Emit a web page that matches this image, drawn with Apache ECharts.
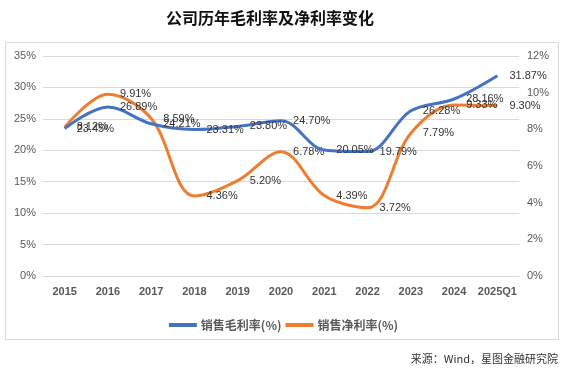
<!DOCTYPE html>
<html><head><meta charset="utf-8">
<script src="https://cdn.jsdelivr.net/npm/echarts@6/dist/echarts.min.js"></script>
<style>html,body{margin:0;padding:0;background:#fff}#c{width:567px;height:374px}</style>
</head><body><div id="c"></div>
<script>
var categories = ['2015','2016','2017','2018','2019','2020','2021','2022','2023','2024','2025Q1'];
var grossMargin = [23.45, 26.89, 24.21, 23.31, 23.80, 24.70, 20.05, 19.79, 26.28, 28.16, 31.87];
var netMargin = [8.12, 9.91, 8.59, 4.36, 5.20, 6.78, 4.39, 3.72, 7.79, 9.33, 9.30];
var leftTicks = [0, 35, 5];
var rightTicks = [0, 12, 2];

var chart = echarts.init(document.getElementById('c'));
var fontBase = 'Liberation Sans, Arial, sans-serif';
function lbl() {
  return {
    show: true, position: 'right', distance: 12,
    color: '#333', fontSize: 11, fontFamily: fontBase,
    formatter: function(p){ return p.value.toFixed(2) + '%'; }
  };
}
chart.setOption({
  animation: false,
  title: {
    text: '公司历年毛利率及净利率变化', left: 265, top: 5, textAlign: 'center',
    textStyle: { fontFamily: 'Noto Sans CJK SC', fontSize: 16, fontWeight: 'bold', color: '#111' }
  },
  graphic: [
    { type: 'rect', shape: { x: 5.5, y: 42.5, width: 553, height: 297 },
      style: { fill: 'none', stroke: '#d9d9d9', lineWidth: 1 }, silent: true },
    { type: 'text', right: 9, top: 353,
      style: { text: '来源：Wind，星图金融研究院', fill: '#333', font: '11px "Noto Sans CJK SC"' } }
  ],
  legend: {
    left: 'center', top: 314, itemWidth: 28, itemHeight: 4, itemGap: 4, icon: 'rect',
    textStyle: { color: '#595959', fontSize: 12, fontWeight: 'bold', fontFamily: 'Noto Sans CJK SC', padding: [0, 0, 0, -1] },
    data: [
      { name: '销售毛利率(%)', itemStyle: { color: '#4472C4', opacity: 1 } },
      { name: '销售净利率(%)', itemStyle: { color: '#ED7D31', opacity: 1 } }
    ]
  },
  grid: { left: 43, right: 48, top: 56, bottom: 98 },
  xAxis: {
    type: 'category', data: categories, boundaryGap: true,
    axisLine: { show: false }, axisTick: { show: false },
    axisLabel: { color: '#595959', fontSize: 11, fontWeight: 'bold', fontFamily: fontBase, margin: 10, interval: 0 }
  },
  yAxis: [
    { type: 'value', min: leftTicks[0], max: leftTicks[1], interval: leftTicks[2],
      axisLine: { show: false }, axisTick: { show: false },
      axisLabel: { color: '#595959', fontSize: 11, fontFamily: fontBase, margin: 7, formatter: '{value}%' },
      splitLine: { lineStyle: { color: '#d9d9d9', width: 1 } } },
    { type: 'value', min: rightTicks[0], max: rightTicks[1], interval: rightTicks[2],
      axisLine: { show: false }, axisTick: { show: false },
      axisLabel: { color: '#595959', fontSize: 11, fontFamily: fontBase, margin: 8, formatter: '{value}%' },
      splitLine: { show: false } }
  ],
  series: [
    { name: '销售毛利率(%)', type: 'line', yAxisIndex: 0, data: grossMargin, smooth: 0.35,
      symbol: 'circle', symbolSize: 0.1, showSymbol: true, itemStyle: { color: '#4472C4' },
      lineStyle: { color: '#4472C4', width: 3 }, label: lbl(), z: 3 },
    { name: '销售净利率(%)', type: 'line', yAxisIndex: 1, data: netMargin, smooth: 0.35,
      symbol: 'circle', symbolSize: 0.1, showSymbol: true, itemStyle: { color: '#ED7D31' },
      lineStyle: { color: '#ED7D31', width: 3 }, label: lbl(), z: 2 }
  ]
});
</script></body></html>
